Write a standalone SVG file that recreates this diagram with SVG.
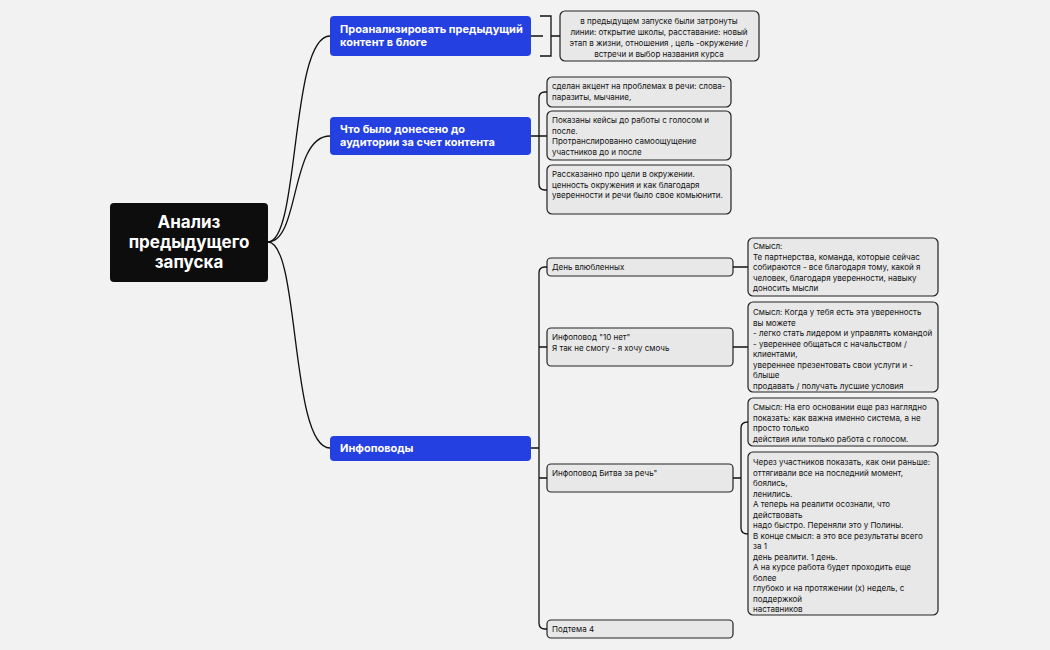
<svg xmlns="http://www.w3.org/2000/svg" width="1050" height="650" viewBox="0 0 1050 650">
<style>
.bg{fill:#f2f2f2}
.blue{fill:#2440e0}
.bt{fill:#fff;font:bold 11px "Inter","Liberation Sans",sans-serif}
.box{fill:#e8e8e8;stroke:#222;stroke-width:1.2}
.t{fill:#111;font:8px "Inter","Liberation Sans",sans-serif}
.c{fill:none;stroke:#111;stroke-width:1.3}
</style>
<rect class="bg" width="1050" height="650"/>
<g id="connectors">
<path class="c" d="M268,242 C300,242 290,36 330,36"/>
<path class="c" d="M268,242 C300,242 290,136 330,136"/>
<path class="c" d="M268,242 C300,242 290,448 330,448"/>
<path class="c" d="M531,36 H543 M540,16 H551 V56 H540 M551,36 H560"/>
<path class="c" d="M531,136 H539 M547,92 H545 Q539,92 539,98 V184 Q539,190 545,190 H547 M539,136 H547"/>
<path class="c" d="M531,448 H539 M547,267 H545 Q539,267 539,273 V623 Q539,629 545,629 H547 M539,347 H547 M539,478 H547"/>
<path class="c" d="M733,267 H748 M733,347 H748"/>
<path class="c" d="M733,478 H741 M748,422 Q741,422 741,428 V528 Q741,534 748,534"/>
</g>
<g id="root"><rect x="110" y="203" width="158" height="79" rx="4" fill="#0d0d0d"/>
<text x="189" y="228" text-anchor="middle" style="fill:#fff;font:bold 17px 'Inter','Liberation Sans',sans-serif"><tspan x="189">Анализ</tspan><tspan x="189" dy="20">предыдущего</tspan><tspan x="189" dy="20">запуска</tspan></text></g>
<g id="b1"><rect class="blue" x="330" y="16" width="201" height="40" rx="4"/><text class="bt" x="340" y="33"><tspan x="340">Проанализировать предыдущий</tspan><tspan x="340" dy="13">контент в блоге</tspan></text></g>
<g id="b2"><rect class="blue" x="330" y="117" width="201" height="38" rx="4"/><text class="bt" x="340" y="133"><tspan x="340">Что было донесено до</tspan><tspan x="340" dy="13">аудитории за счет контента</tspan></text></g>
<g id="b3"><rect class="blue" x="330" y="436" width="201" height="25" rx="4"/><text class="bt" x="340" y="452">Инфоповоды</text></g>
<g id="n1"><rect class="box" x="560" y="11" width="199" height="50" rx="5"/><text class="t" text-anchor="middle" y="24"><tspan x="659">в предыдущем запуске были затронуты</tspan><tspan x="659" dy="11">линии: открытие школы, расставание: новый</tspan><tspan x="659" dy="11">этап в жизни, отношения , цель -окружение /</tspan><tspan x="659" dy="11">встречи и выбор названия курса</tspan></text></g>
<g id="n2"><rect class="box" x="547" y="77" width="184" height="30" rx="5"/><text class="t" y="89"><tspan x="552">сделан акцент на проблемах в речи: слова-</tspan><tspan x="552" dy="10.5">паразиты, мычание,</tspan></text></g>
<g id="n3"><rect class="box" x="547" y="111" width="184" height="49" rx="5"/><text class="t" y="123"><tspan x="552">Показаны кейсы до работы с голосом и</tspan><tspan x="552" dy="10.5">после.</tspan><tspan x="552" dy="10.5">Протранслированно самоощущение</tspan><tspan x="552" dy="10.5">участников до и после</tspan></text></g>
<g id="n4"><rect class="box" x="547" y="165" width="184" height="49" rx="5"/><text class="t" y="177"><tspan x="552">Рассказанно  про цели в окружении.</tspan><tspan x="552" dy="10.5">ценность окружения и как благодаря</tspan><tspan x="552" dy="10.5">уверенности и речи было свое комьюнити.</tspan></text></g>
<g id="i1"><rect class="box" x="547" y="258" width="186" height="18" rx="4"/><text class="t" x="552" y="270">День влюбленных</text></g>
<g id="i2"><rect class="box" x="547" y="328" width="186" height="38" rx="4"/><text class="t" y="340"><tspan x="552">Инфоповод "10 нет"</tspan><tspan x="552" dy="10.5">Я так не смогу - я хочу смочь</tspan></text></g>
<g id="i3"><rect class="box" x="547" y="464" width="186" height="28" rx="4"/><text class="t" x="552" y="476">Инфоповод Битва за речь"</text></g>
<g id="i4"><rect class="box" x="547" y="620" width="186" height="18" rx="4"/><text class="t" x="552" y="632">Подтема 4</text></g>
<g id="m1"><rect class="box" x="748" y="238" width="190" height="58" rx="5"/><text class="t" y="249"><tspan x="753">Смысл:</tspan><tspan x="753" dy="10.5">Те партнерства, команда, которые сейчас</tspan><tspan x="753" dy="10.5">собираются - все благодаря тому, какой я</tspan><tspan x="753" dy="10.5">человек, благодаря уверенности, навыку</tspan><tspan x="753" dy="10.5">доносить мысли</tspan></text></g>
<g id="m2"><rect class="box" x="748" y="302" width="190" height="90" rx="5"/><text class="t" y="315"><tspan x="753">Смысл: Когда у тебя есть эта уверенность</tspan><tspan x="753" dy="10.5">вы можете</tspan><tspan x="753" dy="10.5">- легко стать лидером и управлять командой</tspan><tspan x="753" dy="10.5">- увереннее общаться с начальством /</tspan><tspan x="753" dy="10.5">клиентами,</tspan><tspan x="753" dy="10.5">увереннее презентовать свои услуги и -</tspan><tspan x="753" dy="10.5">блыше</tspan><tspan x="753" dy="10.5">продавать / получать лусшие условия</tspan></text></g>
<g id="m3"><rect class="box" x="748" y="398" width="190" height="48" rx="5"/><text class="t" y="410"><tspan x="753">Смысл: На его основании еще раз наглядно</tspan><tspan x="753" dy="10.5">показать: как важна именно система, а не</tspan><tspan x="753" dy="10.5">просто только</tspan><tspan x="753" dy="10.5">действия или только работа с голосом.</tspan></text></g>
<g id="m4"><rect class="box" x="748" y="452" width="190" height="163" rx="5"/><text class="t" y="465"><tspan x="753">Через участников показать, как они раньше:</tspan><tspan x="753" dy="10.5">оттягивали все на последний момент,</tspan><tspan x="753" dy="10.5">боялись,</tspan><tspan x="753" dy="10.5">ленились.</tspan><tspan x="753" dy="10.5">А теперь на реалити осознали, что</tspan><tspan x="753" dy="10.5">действовать</tspan><tspan x="753" dy="10.5">надо быстро. Переняли это у Полины.</tspan><tspan x="753" dy="10.5">В конце смысл: а это все результаты всего</tspan><tspan x="753" dy="10.5">за 1</tspan><tspan x="753" dy="10.5">день реалити. 1 день.</tspan><tspan x="753" dy="10.5">А на курсе работа будет проходить еще</tspan><tspan x="753" dy="10.5">более</tspan><tspan x="753" dy="10.5">глубоко и на протяжении (х) недель, с</tspan><tspan x="753" dy="10.5">поддержкой</tspan><tspan x="753" dy="10.5">наставников</tspan></text></g>
</svg>
